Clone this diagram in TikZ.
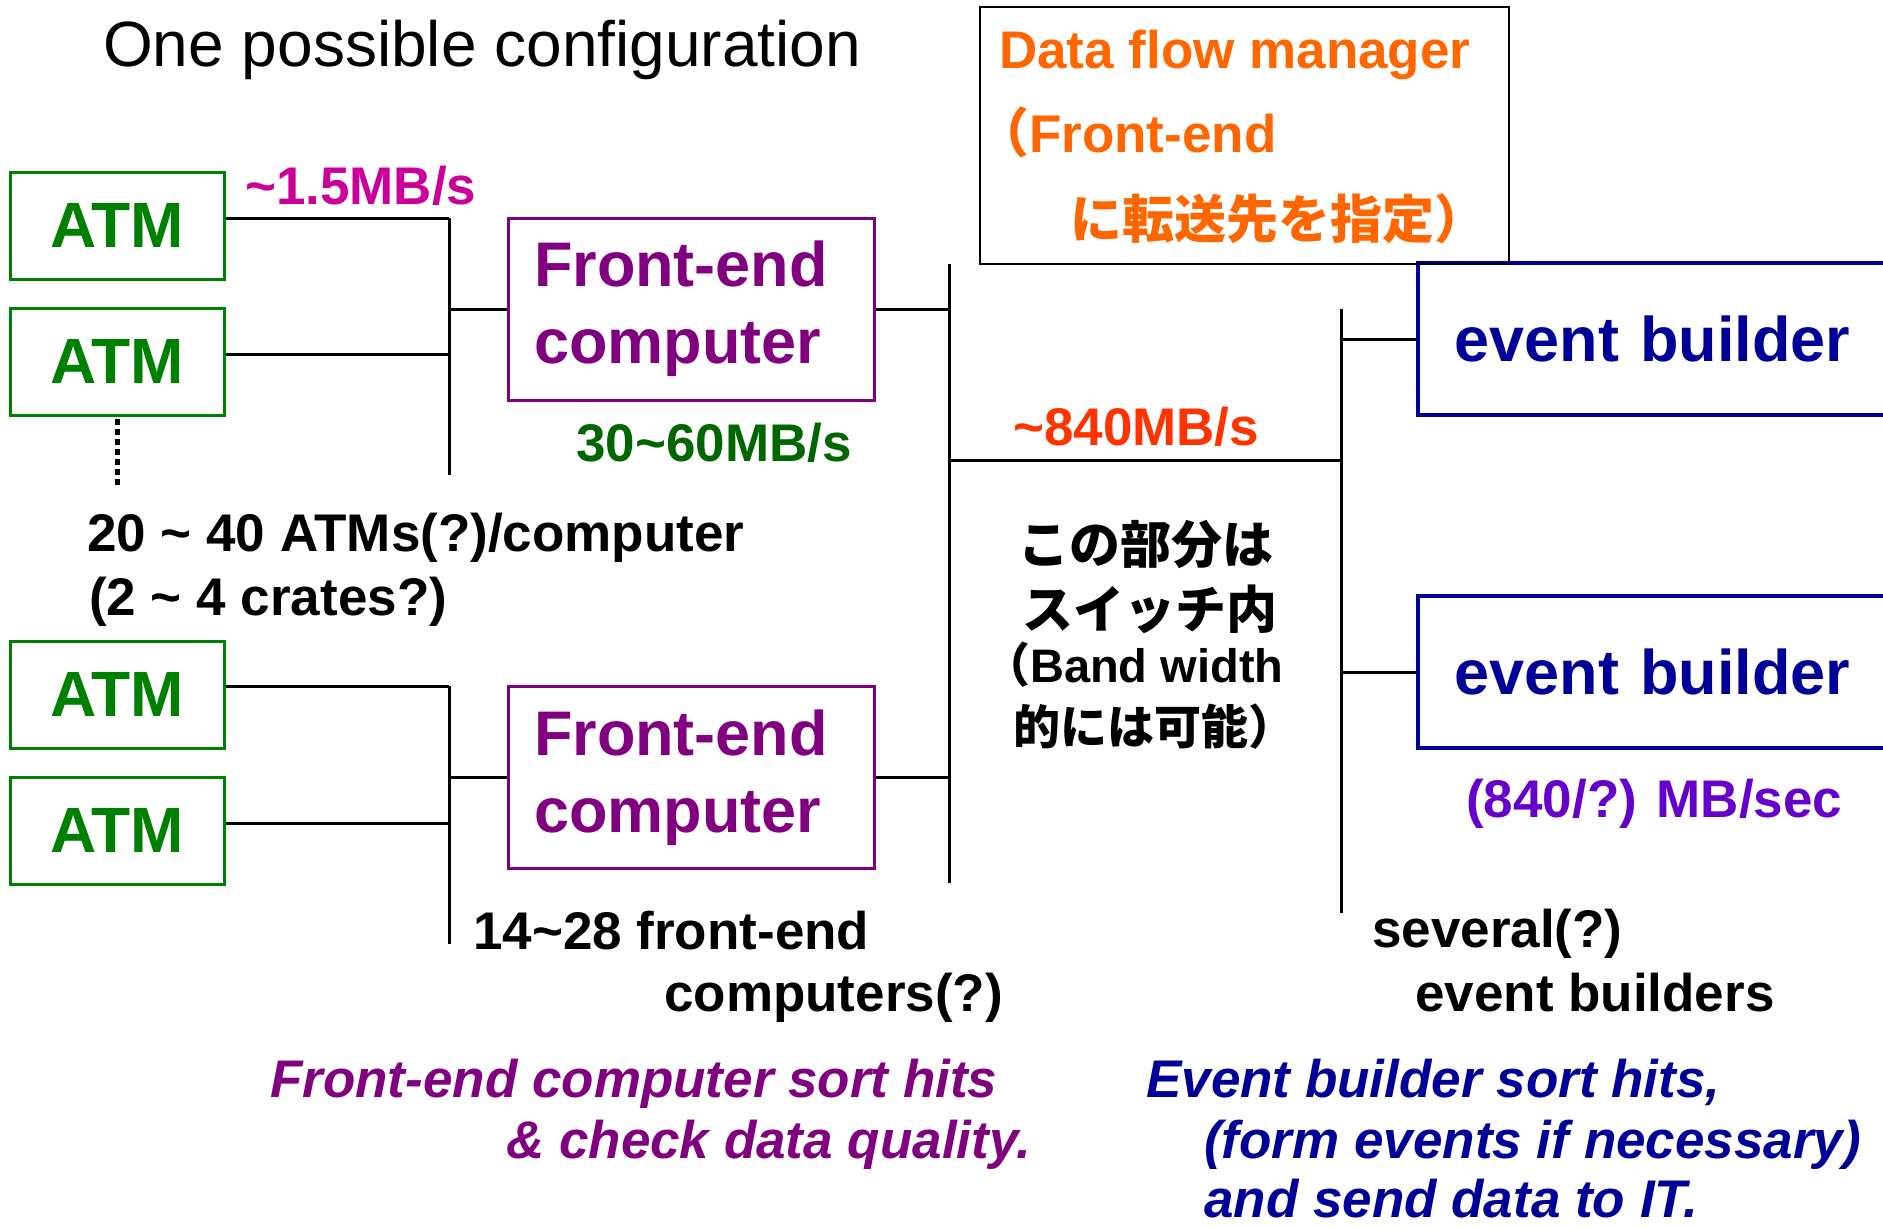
\documentclass[tikz,border=0pt]{standalone}
\usepackage{fontspec}
\setmainfont{Liberation Sans}
\newfontfamily\jp{Noto Sans CJK JP}
\definecolor{atmgreen}{HTML}{008000}
\definecolor{fepurple}{HTML}{800080}
\definecolor{ebnavy}{HTML}{000099}
\definecolor{dfmorange}{HTML}{FF6600}
\definecolor{ratered}{HTML}{FF3300}
\definecolor{ratemag}{HTML}{CC0099}
\definecolor{rategreen}{HTML}{006600}
\definecolor{ebviolet}{HTML}{6600CC}
\begin{document}
\begin{tikzpicture}[x=1pt,y=-1pt,
  atmbox/.style={draw=atmgreen, line width=3pt, text=atmgreen, inner sep=0pt,
    font=\fontsize{64}{70}\selectfont\bfseries, minimum width=214pt, minimum height=107pt},
  febox/.style={draw=fepurple, line width=3pt, text=fepurple, inner xsep=26pt, inner ysep=0pt,
    font=\fontsize{63}{77}\selectfont\bfseries, minimum width=366pt, minimum height=182pt,
    text width=314pt, align=left},
  ebbox/.style={draw=ebnavy, line width=3.5pt, text=ebnavy, inner xsep=37pt, inner ysep=0pt,
    font=\fontsize{63}{70}\selectfont\bfseries, minimum width=520pt, minimum height=152pt,
    text width=446pt, align=left, anchor=west},
  wire/.style={draw=black, line width=3pt},
  lbl/.style={inner sep=0pt, anchor=base west, font=\fontsize{53}{60}\selectfont\bfseries},
  jlbl/.style={inner sep=0pt, anchor=base west, font=\fontsize{51}{60}\selectfont\jp\bfseries},
  itlbl/.style={inner sep=0pt, anchor=base west, font=\fontsize{53}{60}\selectfont\bfseries\itshape}
]
\useasboundingbox (0,0) rectangle (1883,1227);
\clip (0,0) rectangle (1883,1227);
\fill[white] (0,0) rectangle (1883,1227);

% title
\node[inner sep=0pt, anchor=base west, font=\fontsize{64}{70}\selectfont] (title) at (103,66) {One possible configuration};

% ATM boxes
\node[atmbox] (atm1) at (117,225.5) {ATM};
\node[atmbox] (atm2) at (117,361.5) {ATM};
\node[atmbox] (atm3) at (117,694.5) {ATM};
\node[atmbox] (atm4) at (117,830.5) {ATM};

% Front-end computers
\node[febox] (fe1) at (691,309) {Front-end\\computer};
\node[febox] (fe2) at (691,777.5) {Front-end\\computer};

% event builders
\node[ebbox] (eb1) at (1416,339) {event builder};
\node[ebbox] (eb2) at (1416,672) {event builder};

% data flow manager
\node[draw=black, line width=1.5pt, minimum width=529pt, minimum height=257pt, inner sep=0pt,
  anchor=north west] (dfm) at (979,6) {};
\node[lbl, text=dfmorange] (dfm1) at (999,68) {Data flow manager};
\node[lbl, text=dfmorange] (dfm2) at (976,152) {{\jp\bfseries （}Front-end};
\node[jlbl, text=dfmorange, font=\fontsize{52}{60}\selectfont\jp\bfseries] (dfm3) at (1070,238) {に転送先を指定）};

% bus coordinates
\coordinate (b1t) at (449,218);
\coordinate (b1b) at (449,475);
\coordinate (b2t) at (449,686);
\coordinate (b2b) at (449,944);
\coordinate (mbt) at (949,264);
\coordinate (mbb) at (949,883);
\coordinate (mh) at (949,460);
\coordinate (rbt) at (1341,309);
\coordinate (rbb) at (1341,913);
\coordinate (dotend) at (117,487);

% wires upper group
\draw[wire] ([yshift=7.5pt]atm1.east) -- ([yshift=7.5pt]atm1.east -| b1t);
\draw[wire] ([yshift=7.5pt]atm2.east) -- ([yshift=7.5pt]atm2.east -| b1t);
\draw[wire] (b1t) -- (b1b);
\draw[wire] (fe1.west -| b1t) -- (fe1.west);
\draw[line width=5pt, dash pattern=on 6pt off 4pt] ([yshift=-2pt]atm2.south) -- (dotend);

% wires lower group
\draw[wire] ([yshift=8.5pt]atm3.east) -- ([yshift=8.5pt]atm3.east -| b2t);
\draw[wire] ([yshift=7.5pt]atm4.east) -- ([yshift=7.5pt]atm4.east -| b2t);
\draw[wire] (b2t) -- (b2b);
\draw[wire] (fe2.west -| b2t) -- (fe2.west);

% main bus
\draw[wire] (fe1.east) -- (fe1.east -| mbt);
\draw[wire] (fe2.east) -- (fe2.east -| mbt);
\draw[wire] (mbt) -- (mbb);
\draw[wire] (mh) -- (mh -| rbt);
\draw[wire] (rbt) -- (rbb);
\draw[wire] (eb1.west -| rbt) -- (eb1.west);
\draw[wire] (eb2.west -| rbt) -- (eb2.west);

% labels
\node[lbl, text=ratemag] (r1) at (245,204) {\textasciitilde 1.5MB/s};
\node[lbl, text=rategreen] (r2) at (576,461) {30\textasciitilde 60MB/s};
\node[lbl] (n1) at (87,551) {20 \textasciitilde{} 40 ATMs(?)/computer};
\node[lbl] (n2) at (89,615) {(2 \textasciitilde{} 4 crates?)};
\node[lbl, text=ratered] (r3) at (1013,445) {\textasciitilde 840MB/s};
\node[jlbl, anchor=base] (j1) at (1146,563) {この部分は};
\node[jlbl, anchor=base] (j2) at (1150,628) {スイッチ内};
\node[lbl, font=\fontsize{47}{55}\selectfont\bfseries] (j3) at (983,682) {{\jp\bfseries （}Band width};
\node[jlbl, font=\fontsize{47}{55}\selectfont\jp\bfseries] (j4) at (1013,744) {的には可能）};
\node[lbl, text=ebviolet] (r4) at (1466,817) {(840/?) MB/sec};
\node[lbl] (n3) at (473,949) {14\textasciitilde 28 front-end};
\node[lbl] (n4) at (664,1011) {computers(?)};
\node[lbl] (n5) at (1372,947) {several(?)};
\node[lbl] (n6) at (1415,1011) {event builders};

% bottom notes
\node[itlbl, text=fepurple] (c1) at (270,1097) {Front-end computer sort hits};
\node[itlbl, text=fepurple] (c2) at (506,1158) {\& check data quality.};
\node[itlbl, text=ebnavy] (c3) at (1146,1097) {Event builder sort hits,};
\node[itlbl, text=ebnavy] (c4) at (1204,1158) {(form events if necessary)};
\node[itlbl, text=ebnavy] (c5) at (1204,1217) {and send data to IT.};
\end{tikzpicture}
\end{document}
